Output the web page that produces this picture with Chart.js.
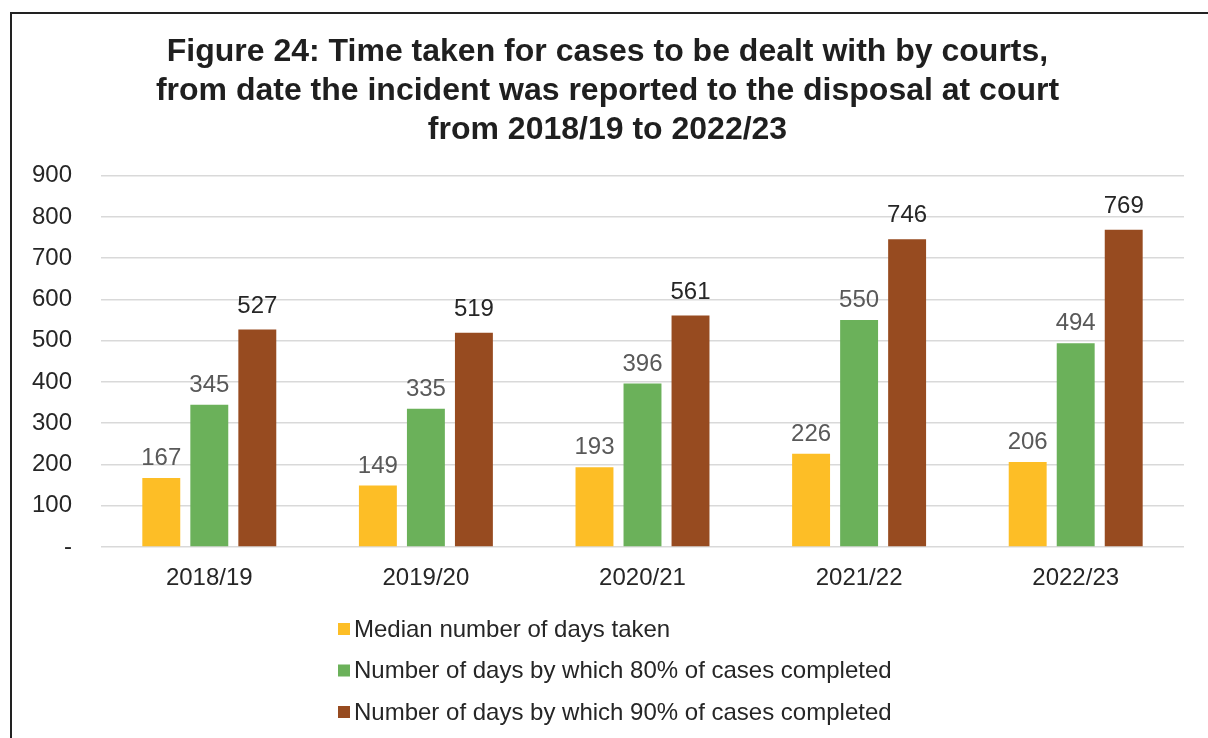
<!DOCTYPE html>
<html>
<head>
<meta charset="utf-8">
<script src="https://cdn.jsdelivr.net/npm/chart.js@4"></script>
<style>
  body { margin: 0; background: #fff; }
  #wrap { width: 1208px; height: 738px; position: relative; }
</style>
</head>
<body>
<div id="wrap"><canvas id="courtChart"></canvas></div>
<script>
const years = ['2018/19', '2019/20', '2020/21', '2021/22', '2022/23'];
const medianDays = [167, 149, 193, 226, 206];
const days80 = [345, 335, 396, 550, 494];
const days90 = [527, 519, 561, 746, 769];
const yTicks = [0, 100, 200, 300, 400, 500, 600, 700, 800, 900];

const FONT = "'Liberation Sans', Arial, sans-serif";

// frame round the figure (left + top edges visible)
const framePlugin = {
    id: 'frame',
    beforeDraw(chart) {
        const c = chart.ctx;
        c.save();
        c.strokeStyle = '#222';
        c.lineWidth = 2;
        c.beginPath();
        c.moveTo(11, chart.height);
        c.lineTo(11, 13);
        c.lineTo(chart.width, 13);
        c.stroke();
        c.restore();
    }
};

// value labels above each bar
const valueLabels = {
    id: 'valueLabels',
    afterDatasetsDraw(chart) {
        const c = chart.ctx;
        c.save();
        c.font = '24px ' + FONT;
        c.textAlign = 'center';
        c.textBaseline = 'alphabetic';
        chart.data.datasets.forEach((ds, i) => {
            const meta = chart.getDatasetMeta(i);
            c.fillStyle = ds.labelColor;
            meta.data.forEach((bar, j) => {
                c.fillText(ds.data[j], bar.x, bar.y - ds.labelGap);
            });
        });
        c.restore();
    }
};

// vertical legend below the axis
const columnLegend = {
    id: 'columnLegend',
    afterDraw(chart) {
        const c = chart.ctx;
        const x0 = 338;
        let y = chart.chartArea.bottom + 82;
        c.save();
        c.font = '24px ' + FONT;
        c.textBaseline = 'middle';
        c.textAlign = 'left';
        chart.data.datasets.forEach(ds => {
            c.fillStyle = ds.backgroundColor;
            c.fillRect(x0, y - 6, 12, 12);
            c.fillStyle = '#262626';
            c.fillText(ds.label, x0 + 16, y + 1);
            y += 41.5;
        });
        c.restore();
    }
};

new Chart(document.getElementById('courtChart'), {
    type: 'bar',
    data: {
        labels: years,
        datasets: [
            { label: 'Median number of days taken', data: medianDays, backgroundColor: '#FDBE26', labelColor: '#595959', labelGap: 13 },
            { label: 'Number of days by which 80% of cases completed', data: days80, backgroundColor: '#6BB15A', labelColor: '#595959', labelGap: 13 },
            { label: 'Number of days by which 90% of cases completed', data: days90, backgroundColor: '#974B20', labelColor: '#262626', labelGap: 17 }
        ]
    },
    options: {
        responsive: true,
        maintainAspectRatio: false,
        animation: false,
        categoryPercentage: 0.665,
        barPercentage: 0.79,
        layout: { padding: { left: 31, right: 24, top: 12, bottom: 131 } },
        plugins: {
            legend: { display: false },
            tooltip: { enabled: false },
            title: {
                display: true,
                text: [
                    'Figure 24: Time taken for cases to be dealt with by courts,',
                    'from date the incident was reported to the disposal at court',
                    'from 2018/19 to 2022/23'
                ],
                color: '#1f1f1f',
                font: { family: FONT, size: 32, weight: 'bold', lineHeight: 1.22 },
                padding: { top: 21, bottom: 25.5 }
            }
        },
        scales: {
            x: {
                grid: { display: false },
                border: { display: false },
                ticks: { color: '#262626', font: { family: FONT, size: 24 }, padding: 9 },
                afterFit(scale) { scale.height = 60; }
            },
            y: {
                min: 0,
                max: 900,
                afterBuildTicks(scale) { scale.ticks = yTicks.map(v => ({ value: v })); },
                afterFit(scale) { scale.width = 70; },
                grid: { color: '#d9d9d9', lineWidth: 1.5, drawTicks: false },
                border: { display: false },
                ticks: {
                    color: '#262626',
                    font: { family: FONT, size: 24 },
                    padding: 29,
                    callback: v => v === 0 ? '-' : v
                }
            }
        }
    },
    plugins: [framePlugin, valueLabels, columnLegend]
});
</script>
</body>
</html>
